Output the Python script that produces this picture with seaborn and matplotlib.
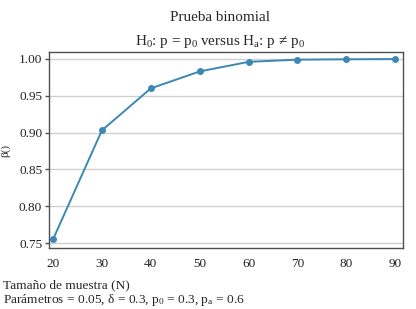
import matplotlib
matplotlib.use("Agg")
import matplotlib.pyplot as plt
import seaborn as sns
import pandas as pd

sample_size = [20, 30, 40, 50, 60, 70, 80, 90]
power = [0.755, 0.903, 0.960, 0.983, 0.996, 0.999, 0.9995, 0.9998]
y_ticks = [0.75, 0.80, 0.85, 0.90, 0.95, 1.00]
x_ticks = [20, 30, 40, 50, 60, 70, 80, 90]

sns.set_theme(style="white")
plt.rcParams['font.family'] = ['Liberation Serif', 'DejaVu Serif']
plt.rcParams['mathtext.fontset'] = 'custom'
plt.rcParams['mathtext.rm'] = 'Liberation Serif'
plt.rcParams['mathtext.it'] = 'Liberation Serif'

df = pd.DataFrame({"N": sample_size, "power": power})

fig = plt.figure(figsize=(4.16, 3.09), dpi=100)
ax = fig.add_axes([0.118, 0.197, 0.851, 0.635])
color = "#3b88b5"
sns.lineplot(data=df, x="N", y="power", ax=ax, color=color, marker="o",
             markersize=5, markeredgewidth=0, linewidth=1.4)
ax.set_xlim(19.2, 91.6)
ax.set_ylim(0.7432, 1.0095)
ax.set_xticks(x_ticks)
ax.set_yticks(y_ticks)
ax.set_yticklabels([f"{v:.2f}" for v in y_ticks])
ax.yaxis.grid(True, color="#d0d0d0", linewidth=1)
ax.set_axisbelow(True)
for s in ax.spines.values():
    s.set_color("#505050")
    s.set_linewidth(1)
ax.tick_params(axis="y", which="both", left=True, length=3, width=1, color="#505050",
               labelsize=9.5, pad=2, labelcolor="#222222")
ax.tick_params(axis="x", bottom=False, labelsize=9.5, pad=1, labelcolor="#222222")
ax.set_xlabel("")
ax.set_ylabel("β()", fontsize=8, labelpad=6)

fig.text(0.529, 0.942, "Prueba binomial", ha="center", va="center", fontsize=10.9)
fig.text(0.529, 0.867, r"H$_0$: p = p$_0$ versus H$_\mathrm{a}$: p ≠ p$_0$", ha="center", va="center", fontsize=10.9)
fig.text(0.007, 0.078, "Tamaño de muestra (N)", ha="left", va="center", fontsize=9.6)
fig.text(0.007, 0.029, r"Parámetros = 0.05, δ = 0.3, p$_0$ = 0.3, p$_\mathrm{a}$ = 0.6", ha="left", va="center", fontsize=9.6)

fig.savefig("out.png", dpi=100)
